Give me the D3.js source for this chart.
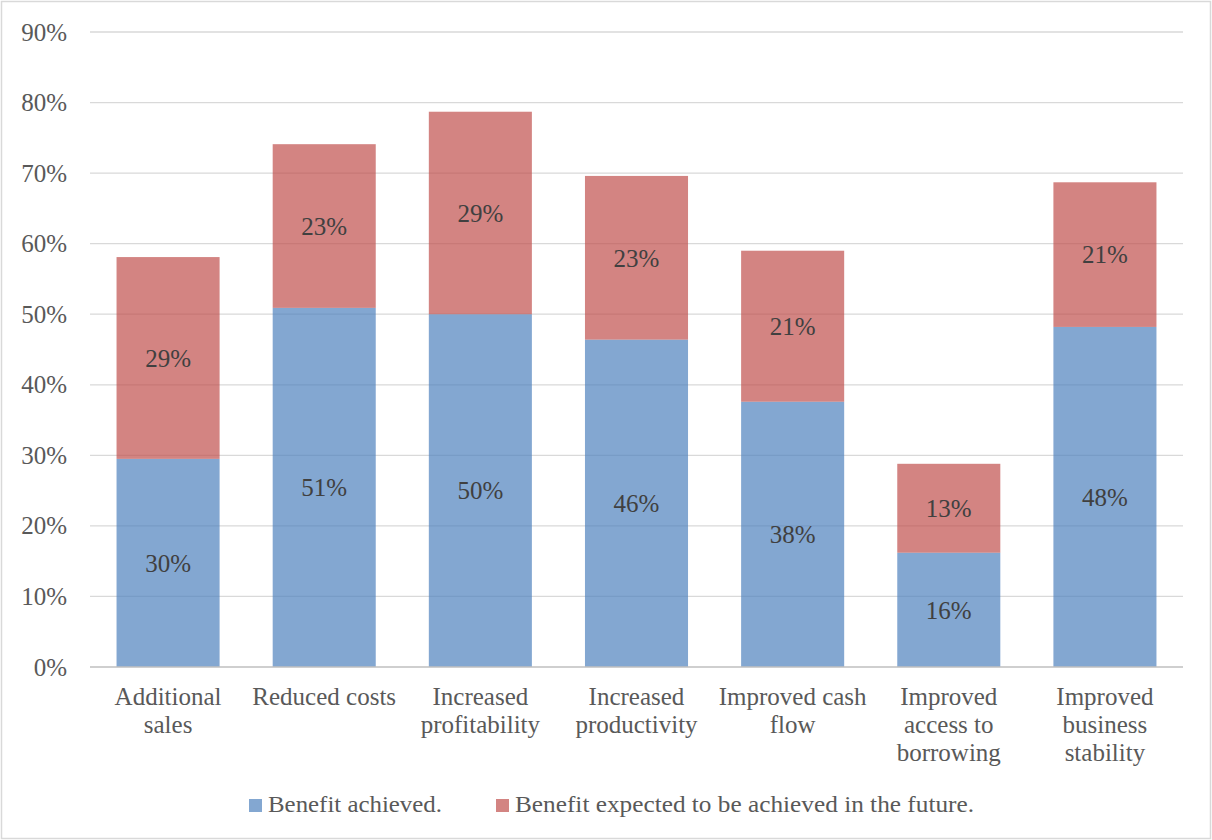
<!DOCTYPE html>
<html>
<head>
<meta charset="utf-8">
<script src="https://cdn.jsdelivr.net/npm/d3@7"></script>
<style>
  html, body { margin: 0; padding: 0; background: #fff; }
  svg { display: block; }
</style>
</head>
<body>
<svg id="chart" width="1212" height="840"></svg>
<script>
// Benefits of the programme, share of respondents
const categories = [
  "Additional sales",
  "Reduced costs",
  "Increased profitability",
  "Increased productivity",
  "Improved cash flow",
  "Improved access to borrowing",
  "Improved business stability"
];
// x-axis labels split over lines
const categoryLines = [
  ["Additional", "sales"],
  ["Reduced costs"],
  ["Increased", "profitability"],
  ["Increased", "productivity"],
  ["Improved cash", "flow"],
  ["Improved", "access to", "borrowing"],
  ["Improved", "business", "stability"]
];
const achieved = [29.5, 50.9, 50.0, 46.4, 37.6, 16.2, 48.2];
const expected = [28.6, 23.2, 28.7, 23.2, 21.4, 12.6, 20.5];
const seriesNames = ["Benefit achieved.", "Benefit expected to be achieved in the future."];
const seriesColors = ["#4F81BD", "#C0504D"];
const yTicks = [0, 10, 20, 30, 40, 50, 60, 70, 80, 90];

const svg = d3.select("#chart");
const W = 1212, H = 840;
const margin = { left: 90, right: 29, top: 32, bottom: 173 };
const font = "'Liberation Serif', 'DejaVu Serif', serif";

// outer frame
svg.append("rect")
  .attr("x", 1.5).attr("y", 1.5)
  .attr("width", W - 3).attr("height", H - 3)
  .attr("fill", "#fff").attr("stroke", "#d9d9d9").attr("stroke-width", 1.5);

const x = d3.scaleBand()
  .domain(categories)
  .range([margin.left, W - margin.right])
  .paddingInner(0.34).paddingOuter(0.17);

const y = d3.scaleLinear()
  .domain([0, 90])
  .range([H - margin.bottom, margin.top]);

// gridlines
svg.append("g")
  .selectAll("line")
  .data(yTicks.filter(t => t > 0))
  .join("line")
  .attr("x1", margin.left).attr("x2", W - margin.right)
  .attr("y1", d => y(d)).attr("y2", d => y(d))
  .attr("stroke", "#d9d9d9").attr("stroke-width", 1.3);

// y axis labels
const yAxis = d3.axisLeft(y).tickValues(yTicks).tickFormat(d => d + "%").tickSize(0).tickPadding(23);
const yg = svg.append("g").attr("transform", `translate(${margin.left},0)`).call(yAxis);
yg.select(".domain").remove();
yg.selectAll("text")
  .attr("font-family", font).attr("font-size", 25).attr("fill", "#595959");

// stacked bars
const stackData = categories.map((c, i) => ({ cat: c, a: achieved[i], e: expected[i] }));
const stack = d3.stack().keys(["a", "e"])(stackData);

stack.forEach((layer, li) => {
  const g = svg.append("g");
  g.selectAll("rect")
    .data(layer)
    .join("rect")
    .attr("x", d => x(d.data.cat))
    .attr("width", x.bandwidth())
    .attr("y", d => y(d[1]))
    .attr("height", d => y(d[0]) - y(d[1]))
    .attr("fill", seriesColors[li])
    .attr("fill-opacity", 0.7);
  g.selectAll("text")
    .data(layer)
    .join("text")
    .attr("x", d => x(d.data.cat) + x.bandwidth() / 2)
    .attr("y", d => (y(d[0]) + y(d[1])) / 2)
    .attr("dy", "0.35em")
    .attr("text-anchor", "middle")
    .attr("font-family", font).attr("font-size", 25).attr("fill", "#404040")
    .text(d => Math.round(d[1] - d[0]) + "%");
});

// x axis line
svg.append("line")
  .attr("x1", margin.left).attr("x2", W - margin.right)
  .attr("y1", y(0)).attr("y2", y(0))
  .attr("stroke", "#bfbfbf").attr("stroke-width", 1.5);

// category labels
const xl = svg.append("g");
categories.forEach((c, i) => {
  const cx = x(c) + x.bandwidth() / 2;
  const t = xl.append("text")
    .attr("x", cx)
    .attr("y", y(0) + 38)
    .attr("text-anchor", "middle")
    .attr("font-family", font).attr("font-size", 25).attr("fill", "#595959");
  categoryLines[i].forEach((ln, k) => {
    t.append("tspan").attr("x", cx).attr("dy", k === 0 ? 0 : 28).text(ln);
  });
});

// legend
const legend = svg.append("g");
const legendItems = [
  { x: 249, name: seriesNames[0], color: seriesColors[0], width: 174 },
  { x: 496, name: seriesNames[1], color: seriesColors[1], width: 459 }
];
legendItems.forEach(it => {
  legend.append("rect")
    .attr("x", it.x).attr("y", 799).attr("width", 13).attr("height", 13)
    .attr("fill", it.color).attr("fill-opacity", 0.7);
  legend.append("text")
    .attr("x", it.x + 19).attr("y", 812)
    .attr("font-family", font).attr("font-size", 24).attr("fill", "#595959")
    .attr("textLength", it.width).attr("lengthAdjust", "spacingAndGlyphs")
    .text(it.name);
});
</script>
</body>
</html>
